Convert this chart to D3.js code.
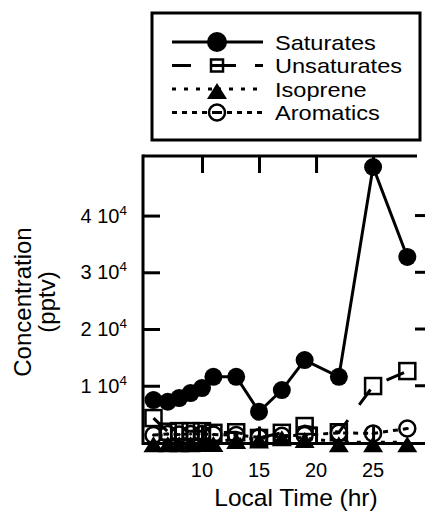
<!DOCTYPE html>
<html>
<head>
<meta charset="utf-8">
<script src="https://cdn.jsdelivr.net/npm/d3@7"></script>
<style>
  body { margin: 0; background: #fff; }
  svg { display: block; font-family: "Liberation Sans", Arial, sans-serif; }
</style>
</head>
<body>
<div id="chart"></div>
<script>
// values (pptv vs local hour)
var hours = [5.75, 7, 8, 9, 10, 11, 13, 15, 17, 19, 22, 25, 28];
var saturates = [7480, 7180, 7830, 8710, 9600, 11580, 11580, 5420, 9240, 14520, 11580, 48560, 32710];
var unsaturates = [4300, 1900, 2000, 2000, 2000, 1700, 1800, 800, 1700, 2900, 1800, 9950, 12590];
var isoprene = [50, 50, 50, 50, 100, 100, 600, 700, 1100, 800, 50, 50, 50];
var aromatics = [1300, 1500, 1400, 1500, 1500, 1400, 1300, 900, 1200, 1300, 1700, 1600, 2450];

var seriesNames = ["Saturates", "Unsaturates", "Isoprene", "Aromatics"];
var xTicks = [10, 15, 20, 25];
var yTicks = [10000, 20000, 30000, 40000];
var yTickMantissa = ["1", "2", "3", "4"];

var svgWidth = 425;
var svgHeight = 512;

var svg = d3.select("#chart").append("svg").attr("width", svgWidth).attr("height", svgHeight);

var plot = { left: 143, top: 156, right: 421, bottom: 443.5 };

var xScale = d3.scaleLinear().domain([4.83, 29.2]).range([plot.left, plot.right]);
var yScale = d3.scaleLinear().domain([-180, 50500]).range([plot.bottom, plot.top]);

var styles = [
  { dash: null, marker: "circle" },
  { dash: "19,19", marker: "square" },
  { dash: "4,8", marker: "triangle" },
  { dash: "5,5", marker: "ocircle" }
];
var allSeries = [saturates, unsaturates, isoprene, aromatics];

function drawMarker(g, type, cx, cy, big) {
  if (type == "circle") {
    g.append("circle").attr("cx", cx).attr("cy", cy).attr("r", big ? 10 : 9).attr("fill", "#000");
  } else if (type == "square") {
    var s = big ? 12 : 16;
    g.append("rect").attr("x", cx - s / 2).attr("y", cy - s / 2).attr("width", s).attr("height", s)
      .attr("fill", "none").attr("stroke", "#000").attr("stroke-width", 2.5);
  } else if (type == "triangle") {
    g.append("path").attr("d", `M${cx},${cy - 6} L${cx + 10},${cy + 10} L${cx - 10},${cy + 10} Z`)
      .attr("fill", "#000");
  } else {
    g.append("circle").attr("cx", cx).attr("cy", cy).attr("r", 8)
      .attr("fill", "none").attr("stroke", "#000").attr("stroke-width", 2.5);
    g.append("circle").attr("cx", cx).attr("cy", cy).attr("r", 1.5).attr("fill", "#000");
  }
}

// lines and markers
var line = d3.line().x(d => xScale(d[0])).y(d => yScale(d[1]));
var dataGroup = svg.append("g");

allSeries.forEach(function(vals, i) {
  var pts = hours.map((h, j) => [h, vals[j]]);
  dataGroup.append("path")
    .attr("d", line(pts))
    .attr("fill", "none")
    .attr("stroke", "#000")
    .attr("stroke-width", 3)
    .attr("stroke-dasharray", styles[i].dash);
});
allSeries.forEach(function(vals, i) {
  var mg = dataGroup.append("g");
  hours.forEach(function(h, j) {
    drawMarker(mg, styles[i].marker, xScale(h), yScale(vals[j]), false);
  });
});

// frame
svg.append("line").attr("x1", plot.left).attr("x2", plot.left).attr("y1", plot.top - 1.5).attr("y2", plot.bottom + 1.5)
  .attr("stroke", "#000").attr("stroke-width", 3);
svg.append("line").attr("x1", plot.left).attr("x2", 417).attr("y1", plot.top).attr("y2", plot.top)
  .attr("stroke", "#000").attr("stroke-width", 3);
svg.append("line").attr("x1", plot.left).attr("x2", svgWidth).attr("y1", plot.bottom).attr("y2", plot.bottom)
  .attr("stroke", "#000").attr("stroke-width", 3);

// axes (ticks drawn by d3, labels added below)
var leftAxis = d3.axisLeft(yScale).tickValues(yTicks).tickSize(-17).tickFormat("");
var topAxis = d3.axisTop(xScale).tickValues(xTicks).tickSize(-17).tickFormat("");
var bottomAxis = d3.axisBottom(xScale).tickValues(xTicks).tickSize(-17).tickFormat("");

[svg.append("g").attr("transform", `translate(${plot.left},0)`).call(leftAxis),
 svg.append("g").attr("transform", `translate(0,${plot.top})`).call(topAxis),
 svg.append("g").attr("transform", `translate(0,${plot.bottom})`).call(bottomAxis)].forEach(function(ax) {
  ax.select(".domain").remove();
  ax.selectAll(".tick line").attr("stroke", "#000").attr("stroke-width", 3);
});

// right side ticks
svg.append("g").selectAll("line").data(yTicks).enter()
  .append("line")
  .attr("x1", 415).attr("x2", svgWidth)
  .attr("y1", d => yScale(d)).attr("y2", d => yScale(d))
  .attr("stroke", "#000").attr("stroke-width", 3);

// y tick labels: "n 10^4"
yTicks.forEach(function(v, i) {
  var t = svg.append("text")
    .attr("x", 127)
    .attr("y", yScale(v) + 7)
    .attr("text-anchor", "end")
    .attr("font-size", 20);
  t.append("tspan").text(yTickMantissa[i] + " 10");
  t.append("tspan").attr("dy", -8).attr("font-size", 13.5).text("4");
});

// x tick labels
svg.append("g").selectAll("text").data(xTicks).enter()
  .append("text")
  .attr("x", d => xScale(d))
  .attr("y", 477)
  .attr("text-anchor", "middle")
  .attr("font-size", 20)
  .text(d => d);

// axis titles
svg.append("text")
  .attr("x", 296).attr("y", 506)
  .attr("text-anchor", "middle")
  .attr("font-size", 24.5)
  .text("Local Time (hr)");

svg.append("text")
  .attr("transform", "translate(31,302) rotate(-90)")
  .attr("text-anchor", "middle")
  .attr("font-size", 24)
  .text("Concentration");
svg.append("text")
  .attr("transform", "translate(55,302) rotate(-90)")
  .attr("text-anchor", "middle")
  .attr("font-size", 24)
  .text("(pptv)");

// legend
var legend = svg.append("g");
legend.append("rect")
  .attr("x", 152).attr("y", 13).attr("width", 268).attr("height", 127)
  .attr("fill", "#fff").attr("stroke", "#000").attr("stroke-width", 3);

var legendBase = [49.5, 73, 96.5, 120];
seriesNames.forEach(function(name, i) {
  var cy = legendBase[i] - 7.5;
  [[172, 217], [217, 263]].forEach(function(seg) {
    legend.append("line")
      .attr("x1", seg[0]).attr("x2", seg[1]).attr("y1", cy).attr("y2", cy)
      .attr("stroke", "#000").attr("stroke-width", 3)
      .attr("stroke-dasharray", styles[i].dash);
  });
  drawMarker(legend, styles[i].marker, 217, cy, true);
  // slightly condensed height so rows do not collide
  legend.append("text")
    .attr("transform", `translate(275,${legendBase[i]}) scale(1.15,1)`)
    .attr("font-size", 20.5)
    .text(name);
});
</script>
</body>
</html>
